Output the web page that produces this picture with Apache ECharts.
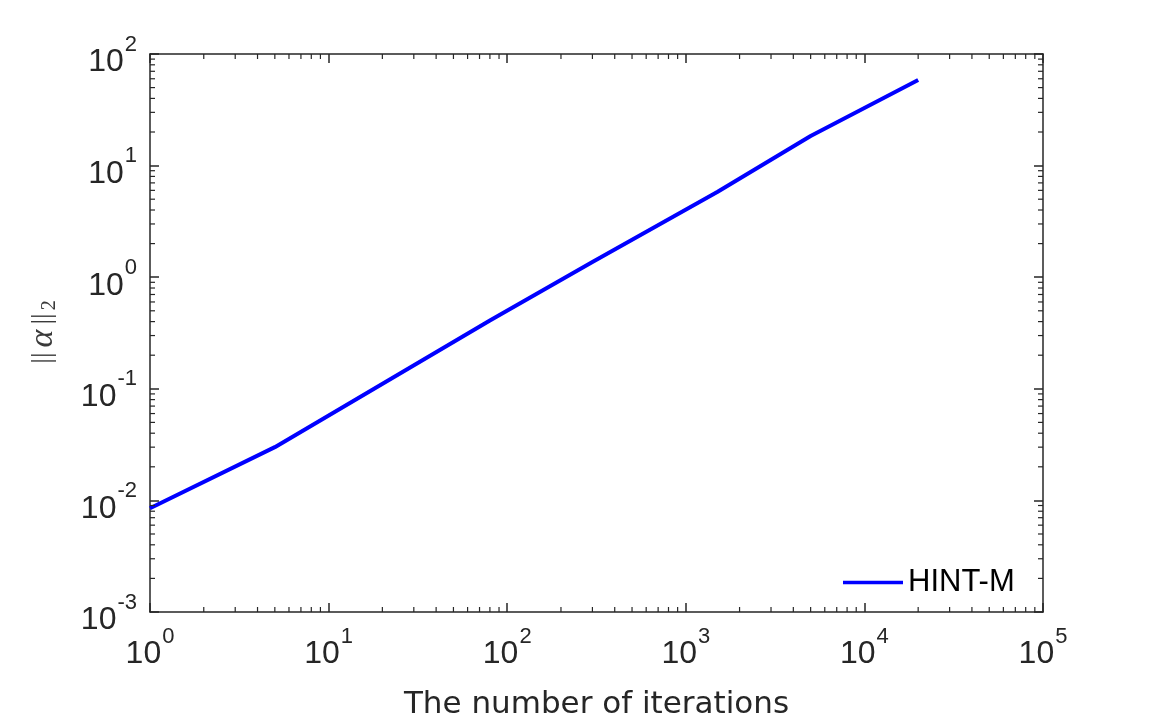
<!DOCTYPE html>
<html>
<head>
<meta charset="utf-8">
<script src="https://cdn.jsdelivr.net/npm/echarts@6/dist/echarts.min.js"></script>
<style>
html,body{margin:0;padding:0;background:#fff;}
#chart{width:1152px;height:720px;}
</style>
</head>
<body>
<div id="chart"></div>
<script>
// ---- data ----
const iterations = [1, 5, 80, 300, 1500, 5000, 20000];
const alphaNorm  = [0.0085, 0.030, 0.41, 1.37, 5.8, 18.4, 58.5];
const seriesName = 'HINT-M';
const xTickExponents = [0, 1, 2, 3, 4, 5];
const yTickExponents = [-3, -2, -1, 0, 1, 2];
const xLabel = 'The number of iterations';

const TXT = '#262626';
const SANS = '"Liberation Sans", Arial, Helvetica, sans-serif';
const xMin = Math.pow(10, xTickExponents[0]);
const xMax = Math.pow(10, xTickExponents[xTickExponents.length - 1]);
const yMin = Math.pow(10, yTickExponents[0]);
const yMax = Math.pow(10, yTickExponents[yTickExponents.length - 1]);

// minor tick positions (2..9 within each decade)
function minorTicks(exps) {
  const out = [];
  for (let i = 0; i < exps.length - 1; i++) {
    for (let m = 2; m <= 9; m++) out.push(m * Math.pow(10, exps[i]));
  }
  return out;
}
const xMinor = minorTicks(xTickExponents);
const yMinor = minorTicks(yTickExponents);

function powLabel(v) {
  const e = Math.round(Math.log10(v));
  return '{b|10}{s|' + e + '}';
}

const xRich = {
  b: {fontSize: 32, lineHeight: 32, fontFamily: SANS, color: TXT},
  s: {fontSize: 22, lineHeight: 22, padding: [0, 0, 34, 1], fontFamily: SANS, color: TXT}
};
const yRich = {
  b: {fontSize: 32, lineHeight: 32, padding: [17, 0, 0, 0], fontFamily: SANS, color: TXT},
  s: {fontSize: 22, lineHeight: 20, padding: [0, 0, 19, 1], fontFamily: SANS, color: TXT}
};

const axisLine = {show: true, onZero: false, lineStyle: {color: TXT, width: 1.5}};
const majorTick = {show: true, inside: true, length: 9, lineStyle: {color: TXT, width: 1.5}};

const chart = echarts.init(document.getElementById('chart'), null, {renderer: 'canvas'});
chart.setOption({
  animation: false,
  backgroundColor: '#ffffff',
  grid: {left: 150, right: 109, top: 54, bottom: 108, containLabel: false, outerBoundsMode: 'none'},
  legend: {
    data: [seriesName],
    left: 843, top: 567, padding: 0,
    icon: 'rect', itemWidth: 60, itemHeight: 3.5, itemGap: 0,
    selectedMode: false,
    textStyle: {fontSize: 31, lineHeight: 30, fontFamily: SANS, color: '#000', padding: [0, 0, 0, 0]}
  },
  xAxis: [{
    type: 'log', logBase: 10, min: xMin, max: xMax, position: 'bottom',
    name: xLabel, nameLocation: 'middle', nameGap: 64,
    nameTextStyle: {fontSize: 31, lineHeight: 36, fontFamily: '"DejaVu Sans", sans-serif', color: TXT},
    axisLine: axisLine, axisTick: majorTick, splitLine: {show: false},
    axisLabel: {margin: 26, formatter: powLabel, rich: xRich}
  }, {
    type: 'log', logBase: 10, min: xMin, max: xMax, position: 'top',
    axisLine: axisLine, axisTick: majorTick, splitLine: {show: false},
    axisLabel: {show: false}
  }],
  yAxis: [{
    type: 'log', logBase: 10, min: yMin, max: yMax, position: 'left',
    name: '{n|||}{a|α}{n|||}{sub|2}', nameLocation: 'middle', nameGap: 90, nameRotate: 90,
    nameTextStyle: {
      rich: {
        n: {fontSize: 28, fontFamily: '"Liberation Serif", serif', color: '#3a3a3a', padding: [0, 2, 0, 2]},
        a: {fontSize: 34, fontStyle: 'italic', fontFamily: '"Liberation Serif", serif', color: '#3a3a3a', padding: [0, 3, 0, 3]},
        sub: {fontSize: 20, fontFamily: '"Liberation Serif", serif', color: '#3a3a3a', padding: [14, 0, 0, 1]}
      }
    },
    axisLine: axisLine, axisTick: majorTick, splitLine: {show: false},
    axisLabel: {margin: 13, formatter: powLabel, rich: yRich}
  }, {
    type: 'log', logBase: 10, min: yMin, max: yMax, position: 'right',
    axisLine: axisLine, axisTick: majorTick, splitLine: {show: false},
    axisLabel: {show: false}
  }],
  series: [{
    name: seriesName,
    type: 'line',
    data: iterations.map((x, i) => [x, alphaNorm[i]]),
    showSymbol: false, symbol: 'none',
    lineStyle: {color: '#0000ff', width: 4},
    itemStyle: {color: '#0000ff'},
    z: 5
  }, {
    type: 'custom', silent: true, clip: false, z: 10,
    data: xMinor.map(v => [v, yMin]),
    renderItem: function (params, api) {
      const cs = params.coordSys;
      const px = api.coord([api.value(0), yMin])[0];
      const style = {stroke: TXT, lineWidth: 1.2};
      return {type: 'group', children: [
        {type: 'line', shape: {x1: px, y1: cs.y + cs.height, x2: px, y2: cs.y + cs.height - 5}, style: style},
        {type: 'line', shape: {x1: px, y1: cs.y, x2: px, y2: cs.y + 5}, style: style}
      ]};
    }
  }, {
    type: 'custom', silent: true, clip: false, z: 10,
    data: yMinor.map(v => [xMin, v]),
    renderItem: function (params, api) {
      const cs = params.coordSys;
      const py = api.coord([xMin, api.value(1)])[1];
      const style = {stroke: TXT, lineWidth: 1.2};
      return {type: 'group', children: [
        {type: 'line', shape: {x1: cs.x, y1: py, x2: cs.x + 5, y2: py}, style: style},
        {type: 'line', shape: {x1: cs.x + cs.width, y1: py, x2: cs.x + cs.width - 5, y2: py}, style: style}
      ]};
    }
  }]
});
</script>
</body>
</html>
